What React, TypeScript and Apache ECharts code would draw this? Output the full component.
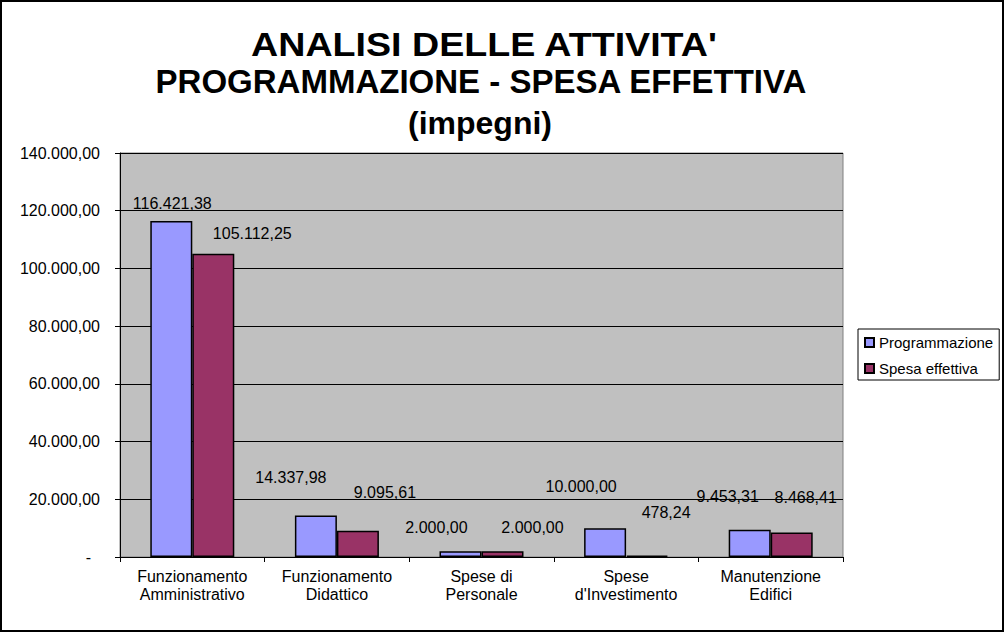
import React, { useEffect, useRef } from "react";
import * as echarts from "echarts";

const categories = [
  "Funzionamento\nAmministrativo",
  "Funzionamento\nDidattico",
  "Spese di\nPersonale",
  "Spese\nd'Investimento",
  "Manutenzione\nEdifici",
];
const seriesNames = ["Programmazione", "Spesa effettiva"];
const programmazione = [116421.38, 14337.98, 2000.0, 10000.0, 9453.31];
const spesaEffettiva = [105112.25, 9095.61, 2000.0, 478.24, 8468.41];
const yMin = 0;
const yMax = 140000;
const yStep = 20000;
const titleLines = [
  "ANALISI DELLE ATTIVITA'",
  "PROGRAMMAZIONE - SPESA EFFETTIVA",
  "(impegni)",
];

// label shifts [dx, distance above bar top] as placed in the original
const progLabelShift = [[1, 18], [-25, 38], [-24, 24], [-24, 42], [-22, 33]];
const spesaLabelShift = [[39, 20], [27, 38], [30, 24], [19, 43], [14, 35]];

const FONT = "'Liberation Sans', Arial, Helvetica, sans-serif";

function fmt(v: number): string {
  const fixed = Math.abs(v).toFixed(2);
  const [i, d] = fixed.split(".");
  const g = i.replace(/\B(?=(\d{3})+(?!\d))/g, ".");
  return (v < 0 ? "-" : "") + g + "," + d;
}

export default function App() {
  const ref = useRef<HTMLDivElement>(null);
  useEffect(() => {
    if (!ref.current) return;
    const chart = echarts.init(ref.current, undefined, { renderer: "svg" });
    const mkSeries = (name: string, values: number[], shifts: number[][], color: string) => ({
      type: "bar",
      name,
      barWidth: 42,
      barGap: "0%",
      itemStyle: { color, borderColor: "#000", borderWidth: 1.5 },
      label: {
        show: true,
        position: "top",
        verticalAlign: "middle",
        fontSize: 16,
        fontFamily: FONT,
        color: "#000",
        formatter: (p: any) => fmt(p.value),
      },
      data: values.map((v, i) => ({
        value: v,
        label: { distance: shifts[i][1], offset: [shifts[i][0], 0] },
      })),
    });
    chart.setOption({
      animation: false,
      backgroundColor: "#fff",
      textStyle: { fontFamily: FONT },
      graphic: [
        {
          type: "rect",
          shape: { x: 1, y: 1, width: 1002, height: 630 },
          style: { fill: "none", stroke: "#000", lineWidth: 2 },
          z: 100,
        },
        {
          type: "text",
          x: 484,
          y: 44,
          scaleX: 1.14,
          style: {
            text: titleLines[0],
            fontSize: 33,
            fontWeight: "bold",
            fontFamily: FONT,
            fill: "#000",
            textAlign: "center",
            textVerticalAlign: "middle",
          },
        },
        {
          type: "text",
          x: 481,
          y: 81,
          style: {
            text: titleLines[1],
            fontSize: 33,
            fontWeight: "bold",
            fontFamily: FONT,
            fill: "#000",
            textAlign: "center",
            textVerticalAlign: "middle",
          },
        },
        {
          type: "text",
          x: 480,
          y: 123,
          style: {
            text: titleLines[2],
            fontSize: 32,
            fontWeight: "bold",
            fontFamily: FONT,
            fill: "#000",
            textAlign: "center",
            textVerticalAlign: "middle",
          },
        },
      ],
      legend: {
        data: seriesNames,
        orient: "vertical",
        left: 858,
        top: 329,
        padding: [6, 6, 4, 6],
        itemGap: 11,
        itemWidth: 9,
        itemHeight: 9,
        icon: "rect",
        borderColor: "#000",
        borderWidth: 1,
        backgroundColor: "#fff",
        textStyle: { fontSize: 15, color: "#000", fontFamily: FONT },
      },
      grid: {
        left: 120,
        right: 162,
        top: 153,
        bottom: 76,
        show: true,
        backgroundColor: "#C0C0C0",
        borderColor: "#808080",
        borderWidth: 1,
      },
      xAxis: {
        type: "category",
        data: categories,
        axisLine: { lineStyle: { color: "#000", width: 1 } },
        axisTick: { show: true, length: 5, lineStyle: { color: "#000" } },
        axisLabel: {
          fontSize: 16,
          lineHeight: 18,
          color: "#000",
          fontFamily: FONT,
          margin: 10,
          interval: 0,
        },
      },
      yAxis: {
        type: "value",
        min: yMin,
        max: yMax,
        interval: yStep,
        axisLine: { show: true, lineStyle: { color: "#000", width: 1 } },
        axisTick: { show: true, length: 5, lineStyle: { color: "#000" } },
        splitLine: { show: true, lineStyle: { color: "#000", width: 1 } },
        axisLabel: {
          fontSize: 16,
          color: "#000",
          fontFamily: FONT,
          margin: 20,
          formatter: (v: number) => (v === 0 ? "-\u2007" : fmt(v)),
        },
      },
      series: [
        mkSeries(seriesNames[0], programmazione, progLabelShift, "#9999FF"),
        mkSeries(seriesNames[1], spesaEffettiva, spesaLabelShift, "#993366"),
      ],
    });
    return () => chart.dispose();
  }, []);
  return (
    <div
      ref={ref}
      style={{ position: "fixed", left: 0, top: 0, width: 1005, height: 633, background: "#fff" }}
    />
  );
}
